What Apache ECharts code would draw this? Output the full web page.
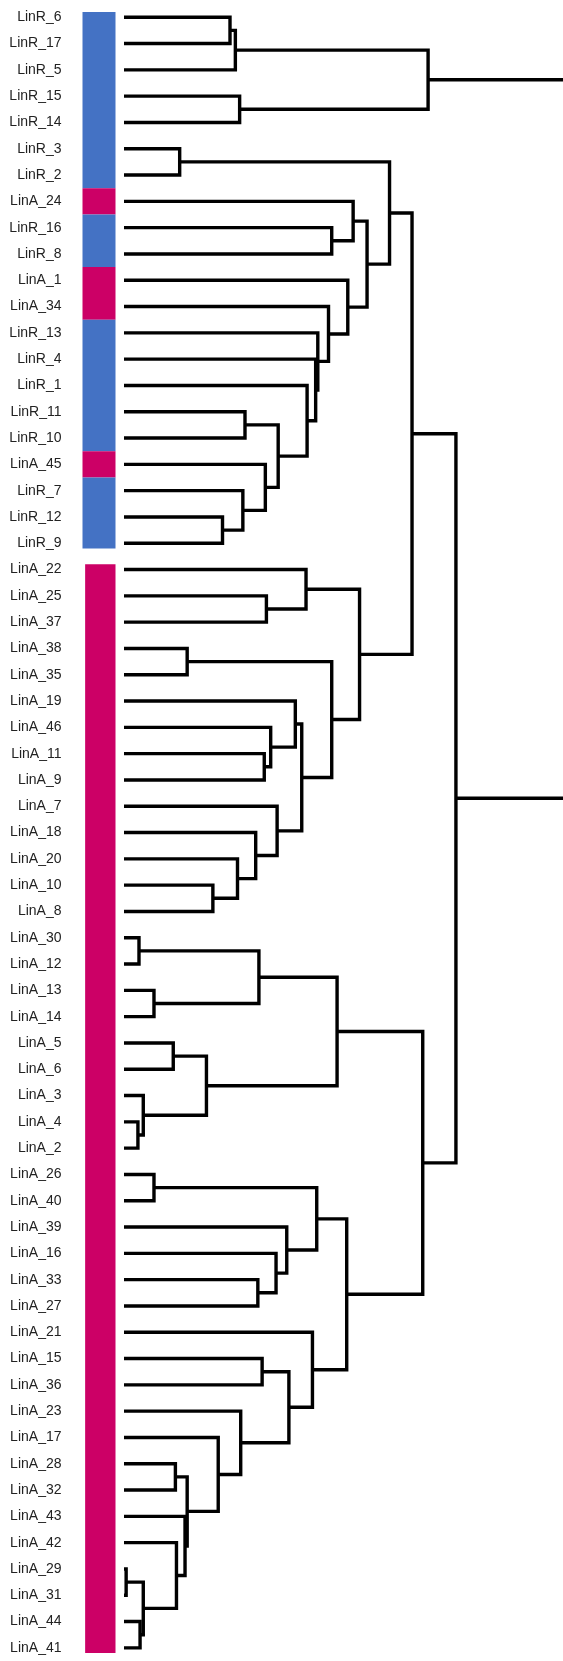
<!DOCTYPE html>
<html>
<head>
<meta charset="utf-8">
<script src="https://cdn.jsdelivr.net/npm/echarts@6/dist/echarts.min.js"></script>
<style>
  html, body { margin: 0; padding: 0; background: #ffffff; }
  #chart { width: 563px; height: 1661px; }
</style>
</head>
<body>
<div id="chart"></div>
<script>
// Leaf order, top to bottom
const leaves = [
  'LinR_6', 'LinR_17', 'LinR_5', 'LinR_15', 'LinR_14', 'LinR_3', 'LinR_2',
  'LinA_24', 'LinR_16', 'LinR_8', 'LinA_1', 'LinA_34', 'LinR_13', 'LinR_4',
  'LinR_1', 'LinR_11', 'LinR_10', 'LinA_45', 'LinR_7', 'LinR_12', 'LinR_9',
  'LinA_22', 'LinA_25', 'LinA_37', 'LinA_38', 'LinA_35', 'LinA_19', 'LinA_46',
  'LinA_11', 'LinA_9', 'LinA_7', 'LinA_18', 'LinA_20', 'LinA_10', 'LinA_8',
  'LinA_30', 'LinA_12', 'LinA_13', 'LinA_14', 'LinA_5', 'LinA_6', 'LinA_3',
  'LinA_4', 'LinA_2', 'LinA_26', 'LinA_40', 'LinA_39', 'LinA_16', 'LinA_33',
  'LinA_27', 'LinA_21', 'LinA_15', 'LinA_36', 'LinA_23', 'LinA_17', 'LinA_28',
  'LinA_32', 'LinA_43', 'LinA_42', 'LinA_29', 'LinA_31', 'LinA_44', 'LinA_41'
];

// Linkage: [left, right, height]; a string is a leaf, a number is an earlier merge
const merges = [
  ['LinR_6', 'LinR_17', 0.99],   // 0
  [0, 'LinR_5', 1.04],           // 1
  ['LinR_15', 'LinR_14', 1.08],  // 2
  [1, 2, 2.84],                  // 3
  ['LinR_3', 'LinR_2', 0.52],    // 4
  ['LinR_16', 'LinR_8', 1.94],   // 5
  ['LinA_24', 5, 2.14],          // 6
  ['LinR_11', 'LinR_10', 1.13],  // 7
  ['LinR_12', 'LinR_9', 0.92],   // 8
  ['LinR_7', 8, 1.11],           // 9
  ['LinA_45', 9, 1.32],          // 10
  [7, 10, 1.44],                 // 11
  ['LinR_1', 11, 1.71],          // 12
  ['LinR_4', 12, 1.79],          // 13
  ['LinR_13', 13, 1.81],         // 14
  ['LinA_34', 14, 1.91],         // 15
  ['LinA_1', 15, 2.09],          // 16
  [6, 16, 2.27],                 // 17
  [4, 17, 2.48],                 // 18
  ['LinA_25', 'LinA_37', 1.33],  // 19
  ['LinA_22', 19, 1.70],         // 20
  ['LinA_38', 'LinA_35', 0.59],  // 21
  ['LinA_11', 'LinA_9', 1.31],   // 22
  ['LinA_46', 22, 1.37],         // 23
  ['LinA_19', 23, 1.60],         // 24
  ['LinA_10', 'LinA_8', 0.83],   // 25
  ['LinA_20', 25, 1.06],         // 26
  ['LinA_18', 26, 1.23],         // 27
  ['LinA_7', 27, 1.43],          // 28
  [24, 28, 1.66],                // 29
  [21, 29, 1.94],                // 30
  [20, 30, 2.20],                // 31
  [18, 31, 2.69],                // 32
  ['LinA_30', 'LinA_12', 0.14],  // 33
  ['LinA_13', 'LinA_14', 0.28],  // 34
  [33, 34, 1.26],                // 35
  ['LinA_5', 'LinA_6', 0.46],    // 36
  ['LinA_4', 'LinA_2', 0.13],    // 37
  ['LinA_3', 37, 0.18],          // 38
  [36, 38, 0.77],                // 39
  [35, 39, 1.99],                // 40
  ['LinA_26', 'LinA_40', 0.28],  // 41
  ['LinA_33', 'LinA_27', 1.25],  // 42
  ['LinA_16', 42, 1.42],         // 43
  ['LinA_39', 43, 1.52],         // 44
  [41, 44, 1.80],                // 45
  ['LinA_15', 'LinA_36', 1.29],  // 46
  ['LinA_28', 'LinA_32', 0.48],  // 47
  ['LinA_29', 'LinA_31', 0.02],  // 48
  ['LinA_44', 'LinA_41', 0.15],  // 49
  [48, 49, 0.18],                // 50
  ['LinA_42', 50, 0.49],         // 51
  ['LinA_43', 51, 0.57],         // 52
  [47, 52, 0.59],                // 53
  ['LinA_17', 53, 0.88],         // 54
  ['LinA_23', 54, 1.09],         // 55
  [46, 55, 1.54],                // 56
  ['LinA_21', 56, 1.76],         // 57
  [45, 57, 2.08],                // 58
  [40, 58, 2.79],                // 59
  [32, 59, 3.10],                // 60
  [3, 60, 4.90]                  // 61 (root)
];

// Annotation bar: consecutive leaf counts per block, colour by name prefix
const blockSizes = [21, 42];
const groupColors = { LinR: '#4472C4', LinA: '#CC0066' };

// ---- tree geometry in (height, leaf position) units ----
const leafIndex = {};
leaves.forEach((n, i) => { leafIndex[n] = i; });
const nodes = [];
const nodeOf = ref => (typeof ref === 'number') ? nodes[ref] : { y: leafIndex[ref], h: 0 };
merges.forEach(([a, b, h]) => {
  const A = nodeOf(a), B = nodeOf(b);
  nodes.push({ a: A, b: B, h: h, y: (A.y + B.y) / 2 });
});

// ---- colour runs of the annotation bar ----
const runs = [];
let start = 0;
blockSizes.forEach((size, blockNo) => {
  const end = start + size - 1;
  let i = start;
  while (i <= end) {
    const g = leaves[i].split('_')[0];
    let j = i;
    while (j + 1 <= end && leaves[j + 1].split('_')[0] === g) j++;
    runs.push({ from: i, to: j, color: groupColors[g], block: blockNo,
                first: i === start, last: j === end });
    i = j + 1;
  }
  start = end + 1;
});

const BLOCK_INSET = 0.3;           // gap at the outer ends of each block (leaf units)
const BLOCK_LEFT = [0, 0.08];      // left edge of each block (bar-axis units)

const chart = echarts.init(document.getElementById('chart'), null, { renderer: 'canvas' });

function posOnAxis(api, x, y) {
  const p0 = api.coord([x, 0]);
  const p1 = api.coord([x, 1]);
  return [p0[0], p0[1] + (p1[1] - p0[1]) * y];
}

const gridTop = 4.1;
const gridHeight = 1660.8;

chart.setOption({
  animation: false,
  backgroundColor: '#ffffff',
  grid: [
    { left: 124, right: 0, top: gridTop, height: gridHeight },
    { left: 82.5, width: 33, top: gridTop, height: gridHeight }
  ],
  xAxis: [
    { gridIndex: 0, type: 'value', min: 0, max: 4.1, show: false },
    { gridIndex: 1, type: 'value', min: 0, max: 1, show: false }
  ],
  yAxis: [
    {
      gridIndex: 0, type: 'category', data: leaves, inverse: true,
      axisLine: { show: false }, axisTick: { show: false }, splitLine: { show: false },
      axisLabel: {
        show: true, margin: 62.5, fontSize: 14, color: '#222222',
        fontFamily: '"Liberation Sans", Arial, sans-serif', interval: 0
      }
    },
    {
      gridIndex: 1, type: 'category', data: leaves, inverse: true, show: false
    }
  ],
  series: [
    {
      type: 'custom',
      name: 'tree',
      xAxisIndex: 0, yAxisIndex: 0,
      clip: true,
      data: nodes.map(n => [n.h, Math.round(n.y)]),
      renderItem: (params, api) => {
        const n = nodes[params.dataIndex];
        const pts = [
          posOnAxis(api, n.a.h, n.a.y),
          posOnAxis(api, n.h, n.a.y),
          posOnAxis(api, n.h, n.b.y),
          posOnAxis(api, n.b.h, n.b.y)
        ];
        return {
          type: 'polyline',
          shape: { points: pts },
          style: { stroke: '#000000', lineWidth: 3.4, fill: 'none', lineJoin: 'miter' }
        };
      }
    },
    {
      type: 'custom',
      name: 'group',
      xAxisIndex: 1, yAxisIndex: 1,
      data: runs.map(r => [0, r.from]),
      renderItem: (params, api) => {
        const r = runs[params.dataIndex];
        const y0 = r.from - 0.5 + (r.first ? BLOCK_INSET : 0);
        const y1 = r.to + 0.5 - (r.last ? BLOCK_INSET : 0);
        const a = posOnAxis(api, BLOCK_LEFT[r.block], y0);
        const b = posOnAxis(api, 1, y1);
        return {
          type: 'rect',
          shape: { x: a[0], y: a[1], width: b[0] - a[0], height: b[1] - a[1] },
          style: { fill: r.color }
        };
      }
    }
  ]
});
</script>
</body>
</html>
